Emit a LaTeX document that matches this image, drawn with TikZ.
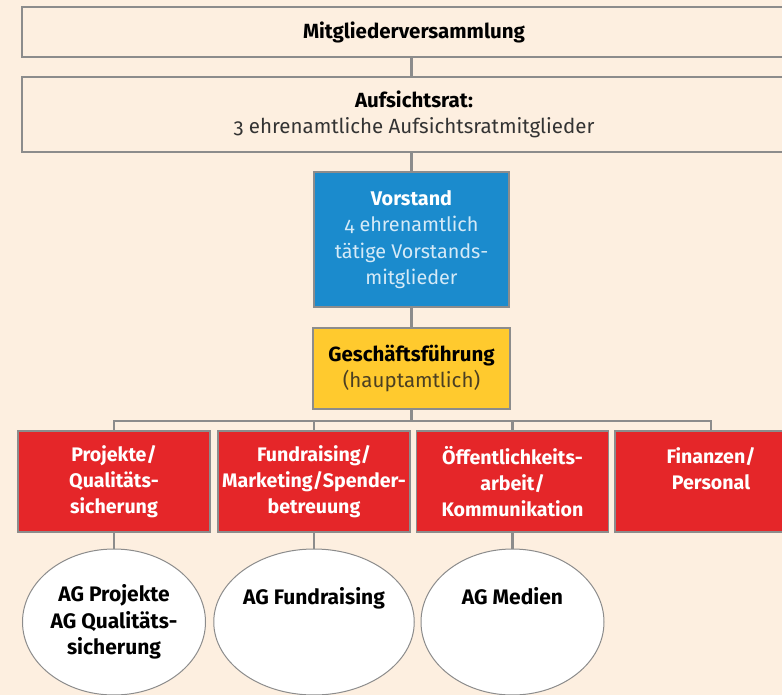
\documentclass[tikz,border=0pt]{standalone}
\usepackage{fontspec}
\setmainfont{Fira Sans}[Numbers=OldStyle]
\usetikzlibrary{shapes.geometric}

\definecolor{peach}{HTML}{FDEFE0}
\definecolor{linegray}{HTML}{8C8C8C}
\definecolor{vblue}{HTML}{1B8BCD}
\definecolor{lightblue}{HTML}{D5EAF7}
\definecolor{gfyellow}{HTML}{FFCA2E}
\definecolor{gfbrown}{HTML}{4B3F22}
\definecolor{agred}{HTML}{E52629}
\definecolor{textgray}{HTML}{333333}

\begin{document}
\begin{tikzpicture}[x=1pt,y=-1pt,
    font=\fontsize{20.5}{26}\selectfont,
    box/.style={draw=linegray, line width=1.5pt, rectangle, align=center, inner sep=0pt},
    topbox/.style={box, fill=peach, minimum width=784pt},
    redbox/.style={box, fill=agred, text=white, font=\fontsize{19.6}{26}\selectfont\bfseries,
        minimum width=192pt, minimum height=101pt},
    agellipse/.style={draw=linegray, line width=1pt, ellipse, fill=white, align=center,
        inner sep=0pt, minimum width=183pt, minimum height=146pt,
        font=\fontsize{21}{26.5}\selectfont\bfseries},
    conn/.style={draw=linegray, line width=2.4pt}]
    % background and page size
    \fill[peach] (0,0) rectangle (782,695);
    \useasboundingbox (0,0) rectangle (782,695);

    % top
    \node[topbox, minimum height=50pt] (mv) at (414,32) {\textbf{Mitgliederversammlung}};
    \node[topbox, minimum height=75pt, text=textgray] (ar) at (414,114.5)
        {\textcolor{black}{\textbf{Aufsichtsrat:}}\\ 3 ehrenamtliche Aufsichtsratmitglieder};
    \node[box, fill=vblue, text=lightblue, minimum width=195pt, minimum height=135pt,
        font=\fontsize{19.8}{26.5}\selectfont] (vs) at (411.5,239.5)
        {\textcolor{white}{\textbf{Vorstand}}\\ 4 ehrenamtlich\\ tätige Vorstands-\\ mitglieder};
    \node[box, fill=gfyellow, text=gfbrown, minimum width=197pt, minimum height=81pt] (gf) at (411.5,368.5)
        {\textcolor{black}{\textbf{Geschäftsführung}}\\ (hauptamtlich)};

    % departments
    \node[redbox] (proj) at (114,481.5) {Projekte/\\ Qualitäts-\\ sicherung};
    \node[redbox] (fund) at (314,481.5) {Fundraising/\\ Marketing/Spender-\\ betreuung};
    \node[redbox] (oeff) at (512.5,481.5) {Öffentlichkeits-\\ arbeit/\\ Kommunikation};
    \node[redbox] (fin) at (711,481.5) {Finanzen/\\ Personal\\ ~};

    % working groups
    \node[agellipse] (agp) at (114,622) {AG Projekte\\ AG Qualitäts-\\ sicherung};
    \node[agellipse] (agf) at (314,622) {AG Fundraising\\ ~\\ ~};
    \node[agellipse] (agm) at (512.5,622) {AG Medien\\ ~\\ ~};

    % connectors
    \draw[conn] (mv.south -| vs.north) -- (ar.north -| vs.north);
    \draw[conn] (ar.south -| vs.north) -- (vs.north);
    \draw[conn] (vs.south) -- (gf.north);
    \draw[conn] (gf.south) -- ++(0,11.5) coordinate (bus);
    \foreach \d in {proj,fund,oeff,fin}
        \draw[conn] (bus) -| (\d.north);
    \foreach \d/\g in {proj/agp,fund/agf,oeff/agm}
        \draw[conn] (\d.south) -- (\g.north);
\end{tikzpicture}
\end{document}
